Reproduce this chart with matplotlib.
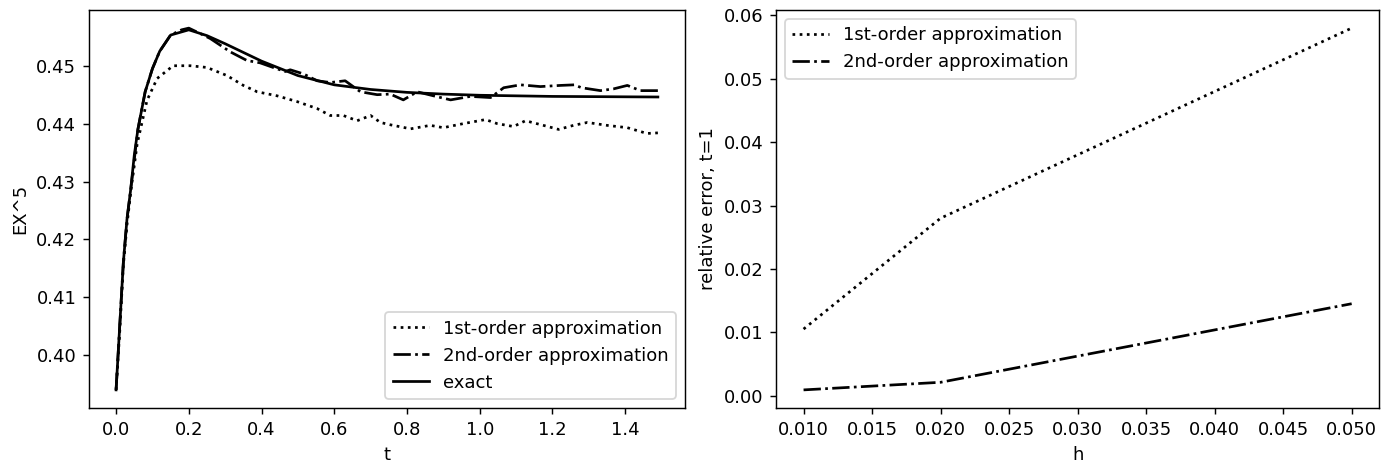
import matplotlib
matplotlib.use("Agg")
import matplotlib.pyplot as plt

# EX^5 over time: exact value vs. the two approximations
t_exact = [0.0, 0.01, 0.02, 0.03, 0.04, 0.05, 0.06, 0.08, 0.10, 0.12, 0.15,
           0.20, 0.25, 0.30, 0.40, 0.50, 0.60, 0.70, 0.80, 0.90, 1.00, 1.20, 1.49]
m_exact = [0.394, 0.405, 0.416, 0.4235, 0.4285, 0.4345, 0.439, 0.4455, 0.4495,
           0.4525, 0.4553, 0.4562, 0.4552, 0.4538, 0.4508, 0.4483, 0.4467,
           0.4459, 0.4454, 0.4451, 0.4449, 0.4447, 0.4446]

t_first = [0.0, 0.01, 0.02, 0.03, 0.04, 0.058, 0.085, 0.113, 0.157, 0.204, 0.25,
           0.305, 0.35, 0.388, 0.443, 0.498, 0.553, 0.589, 0.625, 0.663, 0.70,
           0.727, 0.754, 0.81, 0.864, 0.90, 0.955, 1.016, 1.048, 1.093, 1.126,
           1.175, 1.217, 1.258, 1.296, 1.35, 1.406, 1.46, 1.49]
m_first = [0.394, 0.404, 0.4155, 0.4225, 0.428, 0.4365, 0.4440, 0.4478, 0.4500,
           0.4500, 0.4497, 0.4483, 0.4466, 0.4455, 0.4448, 0.4438, 0.4426,
           0.4414, 0.4414, 0.4405, 0.4414, 0.4402, 0.4398, 0.4391, 0.4397,
           0.4393, 0.4400, 0.4407, 0.4400, 0.4395, 0.4405, 0.4397, 0.4390,
           0.4397, 0.4402, 0.4397, 0.4393, 0.4383, 0.4384]

t_second = [0.0, 0.01, 0.02, 0.03, 0.04, 0.06, 0.08, 0.10, 0.12, 0.15, 0.18,
            0.20, 0.23, 0.259, 0.314, 0.36, 0.396, 0.432, 0.465, 0.479, 0.515,
            0.553, 0.589, 0.63, 0.672, 0.718, 0.754, 0.79, 0.828, 0.873, 0.92,
            0.974, 1.03, 1.066, 1.112, 1.167, 1.222, 1.26, 1.28, 1.332, 1.368,
            1.406, 1.442, 1.49]
m_second = [0.394, 0.405, 0.416, 0.4235, 0.4285, 0.439, 0.4455, 0.4495, 0.4525,
            0.4553, 0.4562, 0.4565, 0.4556, 0.4547, 0.4524, 0.4509, 0.4505,
            0.4497, 0.4490, 0.4493, 0.4486, 0.4474, 0.4471, 0.4474, 0.4455,
            0.4450, 0.4451, 0.4441, 0.4455, 0.4448, 0.4441, 0.4447, 0.4445,
            0.4462, 0.4467, 0.4464, 0.4466, 0.4467, 0.4462, 0.4457, 0.4460,
            0.4466, 0.4457, 0.4457]

# relative error at t=1 vs. step size
h = [0.01, 0.02, 0.05]
err_first = [0.0105, 0.0280, 0.0580]
err_second = [0.0009, 0.0021, 0.0145]

DPI = 130
fig = plt.figure(figsize=(1386 / DPI, 466 / DPI), dpi=DPI)
ax1 = fig.add_axes([0.0642, 0.1245, 0.430, 0.854])
ax2 = fig.add_axes([0.560, 0.1245, 0.435, 0.854])

ax1.plot(t_first, m_first, color='black', linestyle=':', label='1st-order approximation')
ax1.plot(t_second, m_second, color='black', linestyle='-.', label='2nd-order approximation')
ax1.plot(t_exact, m_exact, color='black', linestyle='-', label='exact')
ax1.set_xlabel('t')
ax1.set_ylabel('EX^5')
ax1.legend(loc='lower right')

ax2.plot(h, err_first, color='black', linestyle=':', label='1st-order approximation')
ax2.plot(h, err_second, color='black', linestyle='-.', label='2nd-order approximation')
ax2.set_xlabel('h')
ax2.set_ylabel('relative error, t=1')
ax2.legend(loc='upper left')

fig.savefig('out.png', dpi=DPI)
